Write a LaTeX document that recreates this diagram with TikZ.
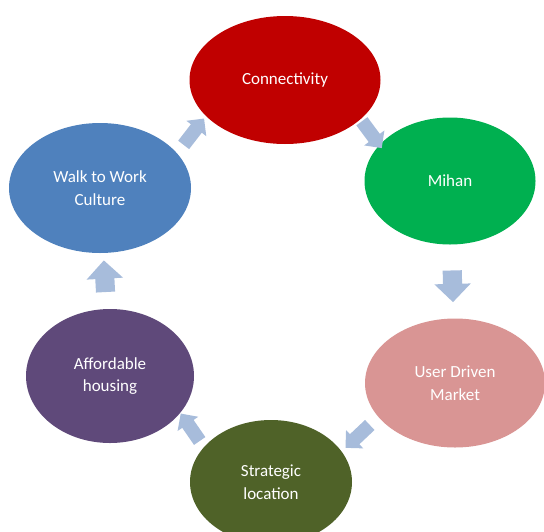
\documentclass[tikz,border=0pt]{standalone}
\usepackage{fontspec}
\setmainfont{Carlito}
\usepackage{tikz}
\usetikzlibrary{shapes.geometric,shapes.arrows}
\definecolor{CycRed}{HTML}{C00000}
\definecolor{CycGreen}{HTML}{00B050}
\definecolor{CycBlue}{HTML}{4F81BD}
\definecolor{CycPurple}{HTML}{5F497A}
\definecolor{CycPink}{HTML}{D99594}
\definecolor{CycOlive}{HTML}{4F6228}
\definecolor{CycArrow}{RGB}{167,188,219}
\tikzset{
  stage/.style={ellipse, draw=none, inner sep=0pt, align=center, text=white, font=\fontsize{14.5}{19.5}\selectfont},
  flowarrow/.style={single arrow, fill=CycArrow, draw=none, inner xsep=0pt, inner ysep=0.28cm, minimum height=0.95cm, single arrow head extend=0.26cm, sloped, allow upside down, midway},
  slantarrow/.style={flowarrow, inner ysep=0.2cm, single arrow head extend=0.17cm, minimum height=1.0cm}
}
\begin{document}
\begin{tikzpicture}
\useasboundingbox (0,0) rectangle (16.32,-15.93);
\clip (0,0) rectangle (16.32,-15.93);
% the six stages of the cycle
\node[stage, fill=CycRed, minimum width=5.73cm, minimum height=3.84cm] (conn) at (8.55,-2.4) {Connectivity};
\node[stage, fill=CycGreen, minimum width=5.13cm, minimum height=3.81cm] (mihan) at (13.5,-5.43) {Mihan};
\node[stage, fill=CycPink, minimum width=5.4cm, minimum height=3.87cm] (market) at (13.65,-11.49) {User Driven\\Market};
\node[stage, fill=CycOlive, minimum width=4.86cm, minimum height=3.72cm] (strategic) at (8.13,-14.46) {Strategic\\location};
\node[stage, fill=CycPurple, minimum width=5.04cm, minimum height=4.02cm] (housing) at (3.3,-11.28) {Affordable\\housing};
\node[stage, fill=CycBlue, minimum width=5.46cm, minimum height=3.9cm] (walk) at (3.0,-5.64) {Walk to Work\\Culture};
% block arrows in the gaps
\path (conn) -- node[slantarrow, rotate=-22] {} (mihan);
\path (mihan) -- node[flowarrow] {} (market);
\path (market) -- node[slantarrow, rotate=15] {} (strategic);
\path (strategic) -- node[slantarrow, rotate=-22] {} (housing);
\path (housing) -- node[flowarrow] {} (walk);
\path (walk) -- node[slantarrow, rotate=22] {} (conn);
\end{tikzpicture}
\end{document}
